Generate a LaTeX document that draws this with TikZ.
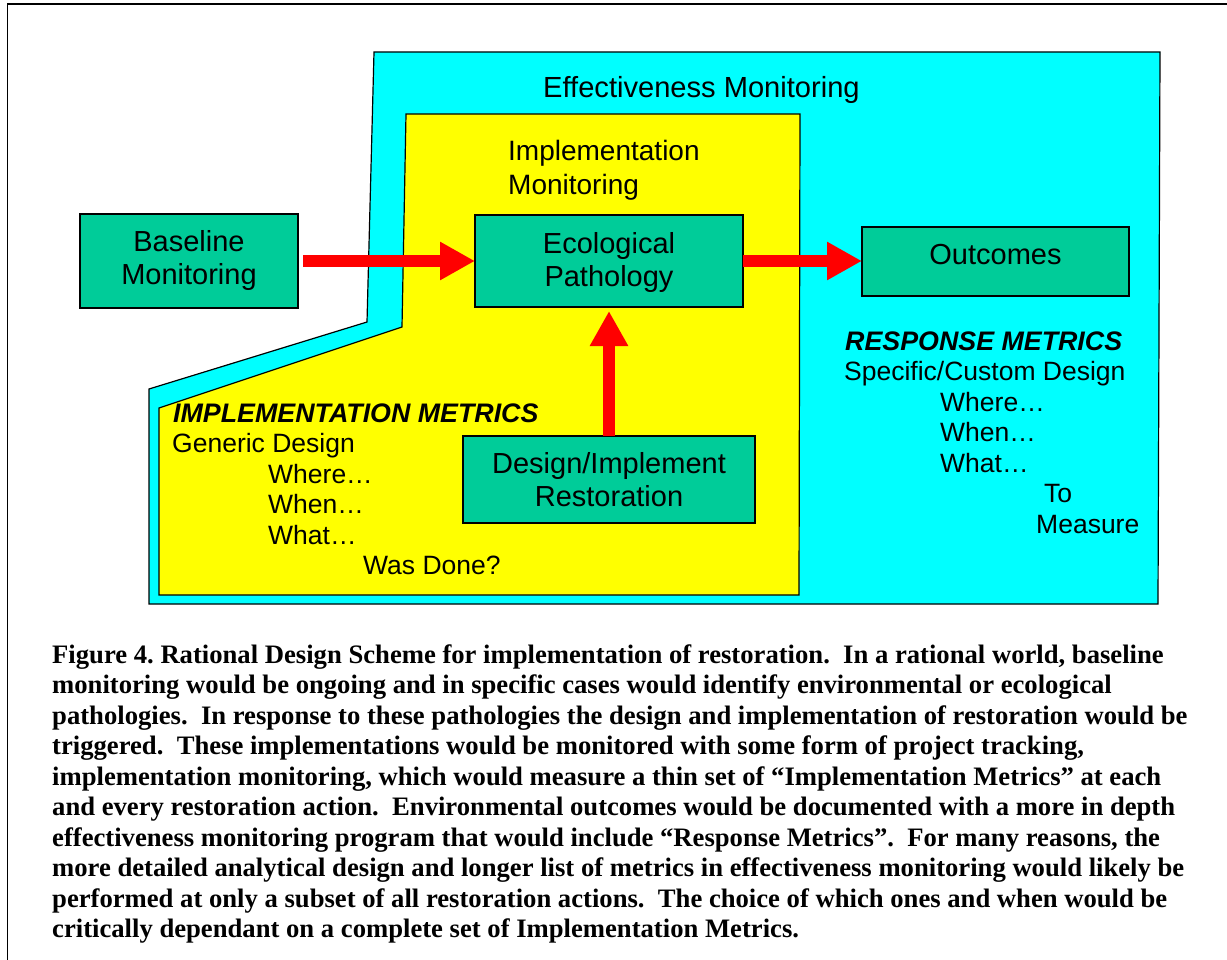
\documentclass[tikz,border=0pt]{standalone}
\usepackage{fontspec}
\setmainfont{Liberation Sans}
\newfontfamily\capfont{Liberation Serif}
\usetikzlibrary{arrows.meta}
\definecolor{boxgreen}{RGB}{0,204,153}
\definecolor{effcyan}{RGB}{0,255,255}
\definecolor{impyellow}{RGB}{255,255,0}
\definecolor{arrred}{RGB}{255,0,0}
\begin{document}
\frenchspacing
\begin{tikzpicture}[x=1pt,y=-1pt,
  stepbox/.style={draw=black,line width=1.5pt,fill=boxgreen,inner sep=0pt,outer sep=0pt,
    anchor=north west,align=center,font=\fontsize{29pt}{33pt}\selectfont},
  region/.style={draw=black,line width=1.2pt},
  bigarrow/.style={draw=arrred,line width=12pt,-{Triangle[length=35pt,width=36pt,fill=arrred]}},
  areatitle/.style={anchor=base west,inner sep=0pt,font=\fontsize{29.1pt}{33pt}\selectfont},
  metrichead/.style={anchor=base west,inner sep=0pt,font=\fontsize{26.8pt}{30.5pt}\selectfont\bfseries\itshape},
  metric/.style={anchor=base west,inner sep=0pt,font=\fontsize{26.5pt}{30.5pt}\selectfont},
  capline/.style={anchor=base west,inner sep=0pt,font=\fontsize{26.65pt}{30.5pt}\selectfont\capfont\bfseries}
]
\useasboundingbox (0,0) rectangle (1227,960);
\fill[white] (0,0) rectangle (1227,960);
% outer frame
\draw[line width=1.4pt] (7.5,4) rectangle (1245,975);

% effectiveness monitoring region
\draw[region,fill=effcyan] (374,52) -- (1160,52) -- (1158,604) -- (149,604) -- (149,389) -- (367,322) -- cycle;
% implementation monitoring region
\draw[region,fill=impyellow] (406,114) -- (800,114) -- (799,595) -- (159,595) -- (159,408) -- (402,327) -- cycle;

\node[areatitle] (efft) at (543,98) {Effectiveness Monitoring};
\node[areatitle,font=\fontsize{28pt}{33pt}\selectfont] (impt1) at (508,161) {Implementation};
\node[areatitle,font=\fontsize{28pt}{33pt}\selectfont] (impt2) at (508,194.5) {Monitoring};

% boxes
\node[stepbox,minimum width=218pt,minimum height=94pt] (base) at (80,214) {Baseline\\Monitoring};
\node[stepbox,minimum width=268pt,minimum height=92pt] (eco) at (475,215) {\rule{0pt}{24.5pt}Ecological\\Pathology};
\node[stepbox,minimum width=267pt,minimum height=69pt] (out) at (862,227) {Outcomes\rule[-14pt]{0pt}{14pt}};
\node[stepbox,minimum width=292pt,minimum height=87pt] (design) at (463,436) {Design/Implement\\Restoration};

% arrows
\draw[bigarrow] ([xshift=5pt]base.east) -- (eco.west);
\draw[bigarrow] (eco.east) -- (eco.east -| out.west);
\draw[bigarrow] (design.north) -- ([yshift=-4pt]eco.south);

% implementation metrics
\node[metrichead] (im1) at (173,422) {IMPLEMENTATION METRICS};
\node[metric] (im2) at (172,452.5) {Generic Design};
\node[metric] (im3) at (268,483) {Where…};
\node[metric] (im4) at (268,513.5) {When…};
\node[metric] (im5) at (268,544) {What…};
\node[metric] (im6) at (363,574.5) {Was Done?};

% response metrics
\node[metrichead] (rm1) at (845,350) {RESPONSE METRICS};
\node[metric] (rm2) at (844,380.5) {Specific/Custom Design};
\node[metric] (rm3) at (940,411) {Where…};
\node[metric] (rm4) at (940,441.5) {When…};
\node[metric] (rm5) at (940,472) {What…};
\node[metric] (rm6) at (1044,502.5) {To};
\node[metric] (rm7) at (1036,533) {Measure};

% caption
\node[capline] (c1) at (52,663) {Figure 4. Rational Design Scheme for implementation of restoration.~ In a rational world, baseline};
\node[capline] (c2) at (52,693.5) {monitoring would be ongoing and in specific cases would identify environmental or ecological};
\node[capline] (c3) at (52,724) {pathologies.~ In response to these pathologies the design and implementation of restoration would be};
\node[capline] (c4) at (52,754.5) {triggered.~ These implementations would be monitored with some form of project tracking,};
\node[capline] (c5) at (52,785) {implementation monitoring, which would measure a thin set of “Implementation Metrics” at each};
\node[capline] (c6) at (52,815.5) {and every restoration action.~ Environmental outcomes would be documented with a more in depth};
\node[capline] (c7) at (52,846) {effectiveness monitoring program that would include “Response Metrics”.~ For many reasons, the};
\node[capline] (c8) at (52,876.5) {more detailed analytical design and longer list of metrics in effectiveness monitoring would likely be};
\node[capline] (c9) at (52,907) {performed at only a subset of all restoration actions.~ The choice of which ones and when would be};
\node[capline] (c10) at (52,937.5) {critically dependant on a complete set of Implementation Metrics.};
\end{tikzpicture}
\end{document}
